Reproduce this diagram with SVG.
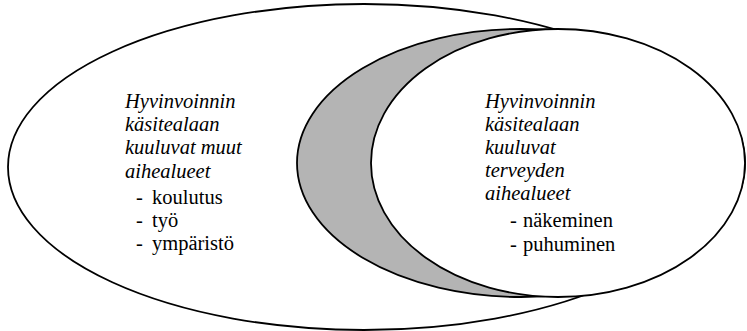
<svg xmlns="http://www.w3.org/2000/svg" width="747" height="331" viewBox="0 0 747 331">
  <style>
    .shape { stroke: #000; stroke-width: 1.8; }
    .crescent { fill: #b4b4b4; }
    .lbl { font-family: "Liberation Serif", "Times New Roman", serif; font-size: 20.5px; fill: #000; }
    .it { font-style: italic; }
  </style>
  <rect width="747" height="331" fill="#fff"/>
  <g id="outer">
    <ellipse class="shape" cx="364" cy="167" rx="356" ry="163" fill="#fff"/>
    <text class="lbl it" x="125" y="108">Hyvinvoinnin</text>
    <text class="lbl it" x="125" y="131">käsitealaan</text>
    <text class="lbl it" x="125" y="154">kuuluvat muut</text>
    <text class="lbl it" x="125" y="178">aihealueet</text>
    <text class="lbl" x="136" y="204">-</text>
    <text class="lbl" x="152" y="204">koulutus</text>
    <text class="lbl" x="136" y="227">-</text>
    <text class="lbl" x="152" y="227">työ</text>
    <text class="lbl" x="136" y="250">-</text>
    <text class="lbl" x="152" y="250">ympäristö</text>
  </g>
  <g id="crescent">
    <ellipse class="shape crescent" cx="521" cy="163" rx="224" ry="134"/>
  </g>
  <g id="health">
    <ellipse class="shape" cx="558" cy="163" rx="187" ry="134" fill="#fff"/>
    <text class="lbl it" x="485" y="108">Hyvinvoinnin</text>
    <text class="lbl it" x="485" y="131">käsitealaan</text>
    <text class="lbl it" x="485" y="154">kuuluvat</text>
    <text class="lbl it" x="485" y="177">terveyden</text>
    <text class="lbl it" x="485" y="200">aihealueet</text>
    <text class="lbl" x="510" y="227">-</text>
    <text class="lbl" x="523" y="227">näkeminen</text>
    <text class="lbl" x="510" y="251">-</text>
    <text class="lbl" x="523" y="251">puhuminen</text>
  </g>
  <g id="connectors"/>
</svg>
